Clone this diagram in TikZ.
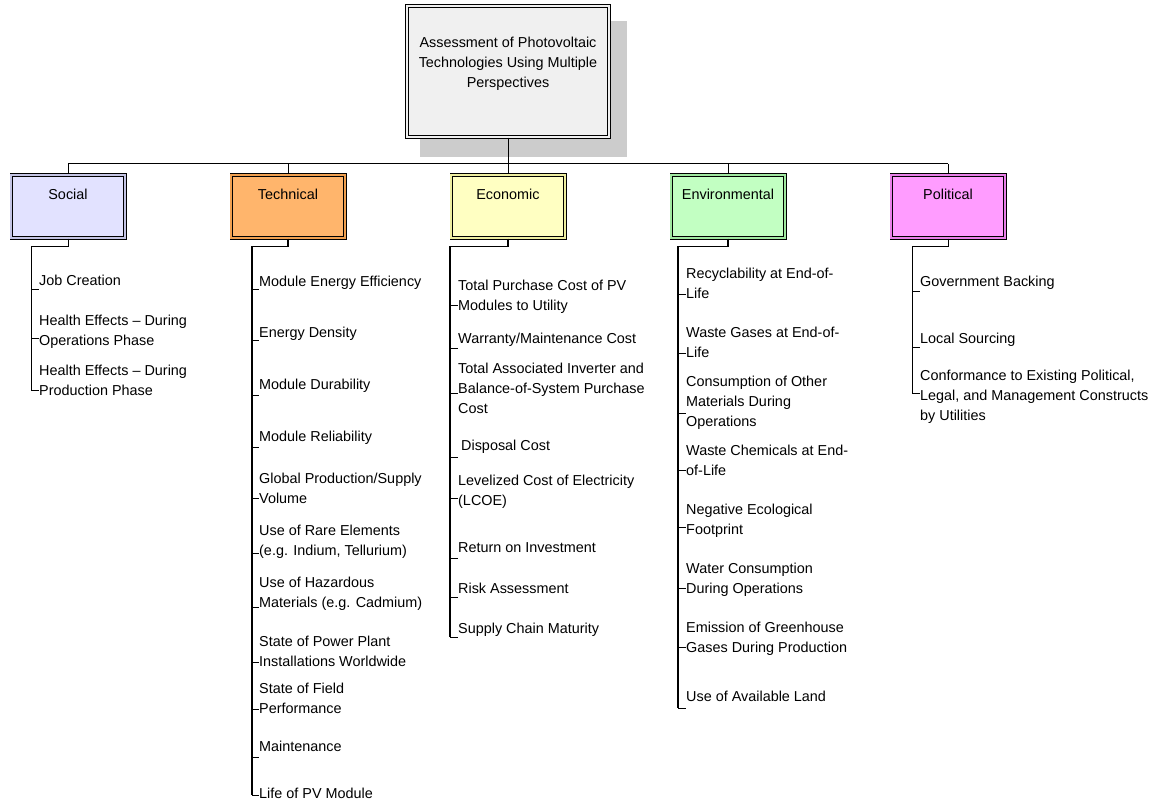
\documentclass[tikz,border=0pt]{standalone}
\usepackage{fontspec}
\setmainfont{Liberation Sans}
\definecolor{topF}{HTML}{F0F0F0}
\definecolor{topG}{HTML}{F0F0F0}
\definecolor{shadowgray}{HTML}{CCCCCC}
\definecolor{socF}{HTML}{E2E2FF}
\definecolor{socG}{HTML}{C4C4E4}
\definecolor{tecF}{HTML}{FFB56C}
\definecolor{tecG}{HTML}{F0A050}
\definecolor{ecoF}{HTML}{FFFFC2}
\definecolor{ecoG}{HTML}{EEEEA0}
\definecolor{envF}{HTML}{C2FFC2}
\definecolor{envG}{HTML}{A0E8A0}
\definecolor{polF}{HTML}{FF9CFF}
\definecolor{polG}{HTML}{E880E8}
\begin{document}
\begin{tikzpicture}[x=1pt,y=-1pt,
  every node/.style={font=\fontsize{14.4}{20}\selectfont},
  conn/.style={line width=1pt, draw=black},
  thick trunk/.style={line width=1.4pt, draw=black},
  dbox/.style={draw=black, line width=0.9pt, double distance=1.8pt,
     fill=#1F, double=#1G, inner sep=0pt},
  cat/.style={dbox=#1, minimum width=113.4pt, minimum height=63.4pt,
     text height=10pt, text depth=23pt},
  item/.style={anchor=north west, inner sep=0pt, align=left,
     execute at begin node=\strut},
  item2/.style={item, yshift=-4pt}]
\useasboundingbox (0,0) rectangle (1163,805);

% top box with shadow
\fill[shadowgray] (420,21) rectangle (627,157);
\node[dbox=top, minimum width=202.4pt, minimum height=131.4pt] (top) at (508,71.5) {};
\node[align=center, inner sep=0pt] (toptext) at (508,64)
  {Assessment of Photovoltaic\\Technologies Using Multiple\\Perspectives};

% category boxes
\node[cat=soc] (soc) at (68,206.5) {Social};
\node[cat=tec] (tec) at (288,206.5) {Technical};
\node[cat=eco] (eco) at (508,206.5) {Economic};
\node[cat=env] (env) at (728,206.5) {Environmental};
\node[cat=pol] (pol) at (948,206.5) {Political};

% bus
\coordinate (bus) at (508,164);
\draw[conn] (top.south) -- (bus);
\draw[conn] (soc.north |- bus) -- (pol.north |- bus);
\foreach \n in {soc,tec,eco,env,pol}
  \draw[conn] (\n.north |- bus) -- (\n.north);

% trunks
\draw[conn] (soc.south) -- ++(0,8) -| (31,390);
\draw[thick trunk] (tec.south) -- ++(0,8) -| (252,795);
\draw[thick trunk] (eco.south) -- ++(0,8) -| (450,637);
\draw[thick trunk] (env.south) -- ++(0,8) -| (678,708);
\draw[conn] (pol.south) -- ++(0,8) -| (912,393);

% ticks
\foreach \y in {290,339,390} \draw[conn] (31,\y) -- ++(8,0);
\foreach \y in {290,341,395,447,498,553,607,662,709,757,795} \draw[conn] (252,\y) -- ++(7,0);
\foreach \y in {306,349,393,457,498,558,597,637} \draw[conn] (450,\y) -- ++(8,0);
\foreach \y in {295,353,413,470,527,588,647,708} \draw[conn] (678,\y) -- ++(8,0);
\foreach \y in {292,348,393} \draw[conn] (912,\y) -- ++(8,0);

% Social items
\node[item] (s1) at (39,271) {Job Creation};
\node[item2] (s2) at (39,311) {Health Effects -- During\\Operations Phase};
\node[item2] (s3) at (39,361) {Health Effects -- During\\Production Phase};

% Technical items
\node[item] (t1) at (259,272) {Module Energy Efficiency};
\node[item] (t2) at (259,323) {Energy Density};
\node[item] (t3) at (259,375) {Module Durability};
\node[item] (t4) at (259,427) {Module Reliability};
\node[item2] (t5) at (259,469) {Global Production/Supply\\Volume};
\node[item2] (t6) at (259,521) {Use of Rare Elements\\(e.g. Indium, Tellurium)};
\node[item2] (t7) at (259,573) {Use of Hazardous\\Materials (e.g. Cadmium)};
\node[item2] (t8) at (259,632) {State of Power Plant\\Installations Worldwide};
\node[item2] (t9) at (259,679) {State of Field\\Performance};
\node[item] (t10) at (259,737) {Maintenance};
\node[item] (t11) at (259,784) {Life of PV Module};

% Economic items
\node[item2] (e1) at (458,276) {Total Purchase Cost of PV\\Modules to Utility};
\node[item] (e2) at (458,329) {Warranty/Maintenance Cost};
\node[item2] (e3) at (458,359) {Total Associated Inverter and\\Balance-of-System Purchase\\Cost};
\node[item] (e4) at (458,436) {\hspace{3pt}Disposal Cost};
\node[item2] (e5) at (458,471) {Levelized Cost of Electricity\\(LCOE)};
\node[item] (e6) at (458,538) {Return on Investment};
\node[item] (e7) at (458,579) {Risk Assessment};
\node[item] (e8) at (458,619) {Supply Chain Maturity};

% Environmental items
\node[item2] (v1) at (686,264) {Recyclability at End-of-\\Life};
\node[item2] (v2) at (686,323) {Waste Gases at End-of-\\Life};
\node[item2] (v3) at (686,372) {Consumption of Other\\Materials During\\Operations};
\node[item2] (v4) at (686,441) {Waste Chemicals at End-\\of-Life};
\node[item2] (v5) at (686,500) {Negative Ecological\\Footprint};
\node[item2] (v6) at (686,559) {Water Consumption\\During Operations};
\node[item2] (v7) at (686,618) {Emission of Greenhouse\\Gases During Production};
\node[item] (v8) at (686,687) {Use of Available Land};

% Political items
\node[item] (p1) at (920,272) {Government Backing};
\node[item] (p2) at (920,329) {Local Sourcing};
\node[item2] (p3) at (920,366) {Conformance to Existing Political,\\Legal, and Management Constructs\\by Utilities};
\end{tikzpicture}
\end{document}
